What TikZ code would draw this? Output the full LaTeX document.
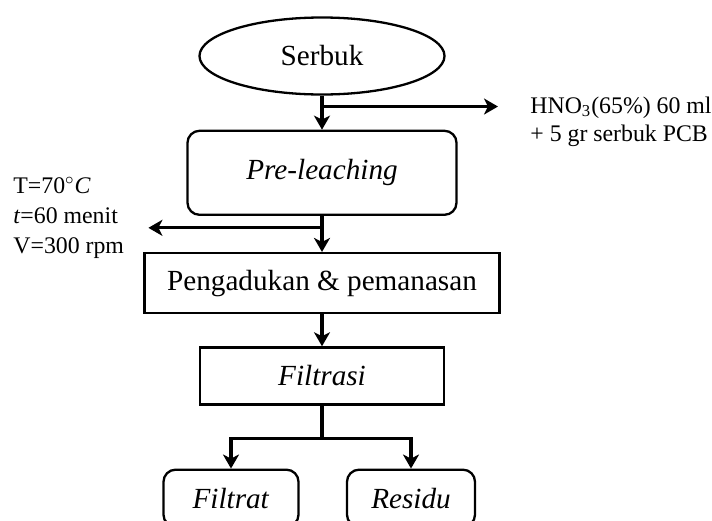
\documentclass[tikz,border=0pt]{standalone}
\usepackage{fontspec}
\setmainfont{Liberation Serif}
\usetikzlibrary{arrows.meta,positioning,shapes.geometric,calc}

\begin{document}
\begin{tikzpicture}[
  font=\fontsize{14.6}{15.5}\selectfont,
  proc/.style={draw, line width=1.15pt, align=center, inner sep=0pt},
  rproc/.style={proc, rounded corners=6pt},
  note/.style={align=left, inner sep=0pt, font=\fontsize{11.9}{15}\selectfont},
  arr/.style={-{Stealth[length=7pt,width=8pt,inset=2pt]}, line width=1.65pt},
  lin/.style={line width=1.65pt}
]
\useasboundingbox (0,0) rectangle (356pt,-260pt);
\node[proc, ellipse, minimum width=122.5pt, minimum height=38.5pt] (serbuk) at (161pt,-28pt) {Serbuk};
\node[rproc, minimum width=134.5pt, minimum height=42pt, below=17pt of serbuk] (pre) {\textit{Pre-leaching}};
\node[proc, minimum width=177.5pt, minimum height=30pt, below=18pt of pre] (aduk) {Pengadukan \& pemanasan};
\node[proc, minimum width=122pt, minimum height=28.5pt, below=16pt of aduk] (filt) {\textit{Filtrasi}};
\node[rproc, minimum width=67.5pt, minimum height=28.5pt, below=31.5pt of filt, xshift=-45.5pt] (filtrat) {\textit{Filtrat}};
\node[rproc, minimum width=64pt, minimum height=28.5pt, below=31.5pt of filt, xshift=44.5pt] (residu) {\textit{Residu}};
\node[note, anchor=west, font=\fontsize{11.9}{14}\selectfont] (hno3) at (265pt,-60.75pt) {HNO\textsubscript{3}(65\%) 60 ml\\+ 5 gr serbuk PCB};
\node[note, anchor=west] (cond) at (6.5pt,-109pt) {T=70$^{\circ}$\textit{C}\\\textit{t}=60 menit\\V=300 rpm};
% junctions
\coordinate (j1) at ($(serbuk.south)!0.32!(pre.north)$);
\coordinate (j2) at ($(pre.south)!0.33!(aduk.north)$);
\coordinate (j3) at ($(filt.south)+(0,-16.5pt)$);
\draw[arr] (serbuk) -- (pre);
\draw[arr] (j1) -- ($(hno3.west |- j1)+(-16pt,0)$);
\draw[arr] (pre) -- (aduk);
\draw[arr] (j2) -- ($(cond.east |- j2)+(12pt,0)$);
\draw[arr] (aduk) -- (filt);
\draw[lin] (filt) -- (j3);
\draw[arr] (j3) -| (filtrat);
\draw[arr] (j3) -| (residu);
\end{tikzpicture}
\end{document}
